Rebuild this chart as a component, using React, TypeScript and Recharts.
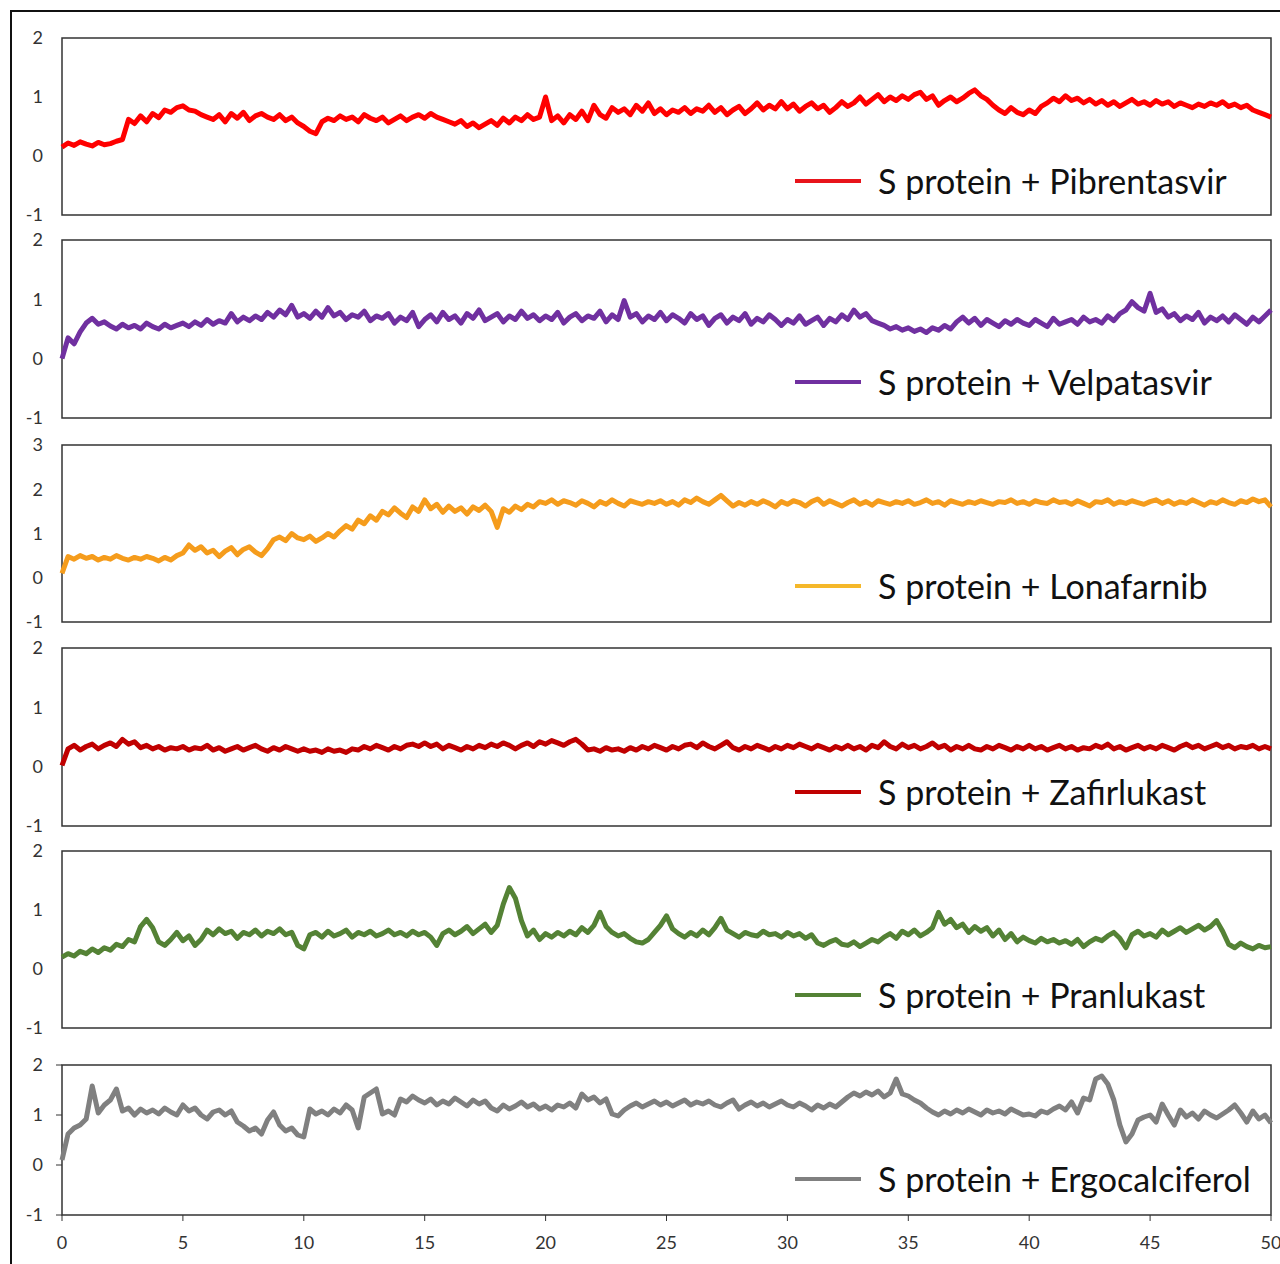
import React from 'react';
import { LineChart, Line, XAxis, YAxis, ReferenceArea, Legend } from 'recharts';

// sampling interval of the trajectories (ns)
const TIME_STEP = 0.25;
const X_TICKS = [0, 5, 10, 15, 20, 25, 30, 35, 40, 45, 50];

const pibrentasvir = [
  0.15, 0.22, 0.18, 0.24, 0.2, 0.17, 0.23, 0.19, 0.21, 0.25, 0.28, 0.62, 0.55, 0.68, 0.58, 0.72, 0.65, 0.78, 0.74, 0.82,
  0.85, 0.78, 0.76, 0.7, 0.66, 0.62, 0.7, 0.58, 0.72, 0.64, 0.74, 0.6, 0.68, 0.72, 0.66, 0.62, 0.7, 0.6, 0.66, 0.56,
  0.5, 0.42, 0.38, 0.58, 0.64, 0.6, 0.68, 0.62, 0.66, 0.58, 0.7, 0.64, 0.6, 0.66, 0.56, 0.62, 0.68, 0.6, 0.66, 0.7,
  0.64, 0.72, 0.66, 0.62, 0.58, 0.54, 0.6, 0.5, 0.56, 0.48, 0.54, 0.6, 0.52, 0.64, 0.56, 0.66, 0.6, 0.7, 0.62, 0.66,
  1.0, 0.6, 0.68, 0.56, 0.7, 0.62, 0.76, 0.6, 0.86, 0.7, 0.64, 0.82, 0.74, 0.8, 0.7, 0.86, 0.76, 0.9, 0.72, 0.8,
  0.7, 0.78, 0.74, 0.82, 0.72, 0.8, 0.76, 0.86, 0.74, 0.82, 0.7, 0.78, 0.84, 0.72, 0.8, 0.9, 0.78, 0.86, 0.8, 0.92,
  0.8, 0.88, 0.76, 0.84, 0.9, 0.8, 0.86, 0.74, 0.82, 0.92, 0.84, 0.9, 1.0, 0.88, 0.96, 1.04, 0.92, 1.0, 0.94, 1.02,
  0.96, 1.04, 1.08, 0.96, 1.02, 0.86, 0.94, 1.0, 0.92, 0.98, 1.06, 1.12, 1.02, 0.96, 0.86, 0.78, 0.72, 0.82, 0.74, 0.7,
  0.78, 0.72, 0.84, 0.9, 0.98, 0.92, 1.02, 0.94, 0.98, 0.9, 0.96, 0.88, 0.94, 0.86, 0.92, 0.84, 0.9, 0.96, 0.88, 0.92,
  0.86, 0.94, 0.88, 0.92, 0.84, 0.9, 0.86, 0.82, 0.88, 0.84, 0.9, 0.86, 0.92, 0.84, 0.88, 0.82, 0.86, 0.78, 0.74, 0.7,
  0.66,
];

const velpatasvir = [
  0.0, 0.35, 0.25, 0.45, 0.6, 0.68, 0.58, 0.62, 0.55, 0.5, 0.58, 0.52, 0.56, 0.5, 0.6, 0.54, 0.5, 0.58, 0.52, 0.56,
  0.6, 0.54, 0.62, 0.56, 0.66, 0.58, 0.64, 0.6, 0.76, 0.62, 0.7, 0.64, 0.72, 0.66, 0.78, 0.7, 0.82, 0.74, 0.9, 0.7,
  0.76, 0.68, 0.8, 0.7, 0.86, 0.72, 0.78, 0.66, 0.74, 0.7, 0.8, 0.64, 0.72, 0.68, 0.76, 0.6, 0.7, 0.64, 0.78, 0.54,
  0.66, 0.74, 0.62, 0.78, 0.66, 0.72, 0.6, 0.76, 0.68, 0.82, 0.64, 0.7, 0.76, 0.62, 0.72, 0.66, 0.8, 0.68, 0.74, 0.64,
  0.72, 0.66, 0.78, 0.6, 0.7, 0.76, 0.64, 0.72, 0.68, 0.8, 0.62, 0.74, 0.66, 0.98, 0.7, 0.76, 0.62, 0.72, 0.66, 0.78,
  0.64, 0.74, 0.68, 0.6, 0.76, 0.66, 0.72, 0.56, 0.68, 0.74, 0.6, 0.7, 0.64, 0.76, 0.58, 0.68, 0.62, 0.74, 0.66, 0.56,
  0.66, 0.6, 0.72, 0.58, 0.64, 0.7, 0.56, 0.68, 0.62, 0.74, 0.66, 0.82, 0.7, 0.76, 0.64, 0.6, 0.56, 0.5, 0.54, 0.48,
  0.52, 0.46, 0.5, 0.44, 0.52, 0.48, 0.56, 0.5, 0.62, 0.7, 0.6, 0.68, 0.56, 0.66, 0.6, 0.54, 0.64, 0.58, 0.66, 0.6,
  0.56, 0.66, 0.6, 0.54, 0.68, 0.58, 0.62, 0.66, 0.58, 0.7, 0.62, 0.66, 0.6, 0.72, 0.64, 0.76, 0.82, 0.96, 0.86, 0.8,
  1.1, 0.78, 0.84, 0.7, 0.76, 0.64, 0.72, 0.66, 0.78, 0.6, 0.7, 0.64, 0.72, 0.62, 0.74, 0.66, 0.58, 0.7, 0.62, 0.72,
  0.82,
];

const lonafarnib = [
  0.1, 0.48, 0.42, 0.5, 0.44, 0.48, 0.4, 0.46, 0.42, 0.5, 0.44, 0.4, 0.46, 0.42, 0.48, 0.44, 0.38, 0.46, 0.4, 0.5,
  0.56, 0.74, 0.62, 0.7, 0.56, 0.62, 0.48, 0.6, 0.68, 0.52, 0.64, 0.7, 0.58, 0.5, 0.66, 0.86, 0.92, 0.84, 1.0, 0.9,
  0.86, 0.94, 0.82, 0.9, 1.0, 0.92, 1.06, 1.18, 1.1, 1.3, 1.22, 1.4, 1.3, 1.5, 1.42, 1.58, 1.46, 1.36, 1.6, 1.5,
  1.76, 1.56, 1.66, 1.48, 1.62, 1.5, 1.58, 1.44, 1.6, 1.52, 1.64, 1.5, 1.14, 1.56, 1.48, 1.62, 1.54, 1.66, 1.6, 1.72,
  1.68, 1.76, 1.66, 1.74, 1.7, 1.64, 1.74, 1.68, 1.6, 1.72, 1.66, 1.76, 1.68, 1.62, 1.74, 1.7, 1.66, 1.72, 1.68, 1.74,
  1.66, 1.72, 1.64, 1.76, 1.7, 1.8, 1.72, 1.66, 1.76, 1.86, 1.74, 1.62, 1.7, 1.64, 1.72, 1.66, 1.74, 1.68, 1.6, 1.72,
  1.66, 1.74, 1.7, 1.62, 1.72, 1.78, 1.66, 1.74, 1.68, 1.62, 1.7, 1.76, 1.66, 1.72, 1.64, 1.74, 1.7, 1.66, 1.72, 1.68,
  1.74, 1.66, 1.7, 1.76, 1.68, 1.72, 1.64, 1.74, 1.7, 1.66, 1.72, 1.68, 1.74, 1.7, 1.66, 1.72, 1.7, 1.76, 1.68, 1.72,
  1.66, 1.74, 1.7, 1.68, 1.76, 1.7, 1.72, 1.66, 1.74, 1.68, 1.62, 1.72, 1.7, 1.76, 1.66, 1.72, 1.68, 1.74, 1.7, 1.66,
  1.72, 1.76, 1.68, 1.74, 1.66, 1.72, 1.68, 1.76, 1.7, 1.64, 1.72, 1.68, 1.76, 1.7, 1.66, 1.74, 1.7, 1.78, 1.72, 1.76,
  1.6,
];

const zafirlukast = [
  0.02, 0.3, 0.36, 0.28, 0.34, 0.38, 0.3, 0.36, 0.4, 0.34, 0.46, 0.38, 0.42, 0.32, 0.36, 0.3, 0.34, 0.28, 0.32, 0.3,
  0.34, 0.28, 0.32, 0.3, 0.36, 0.28, 0.32, 0.26, 0.3, 0.34, 0.28, 0.32, 0.36, 0.3, 0.26, 0.32, 0.28, 0.34, 0.3, 0.26,
  0.3, 0.26, 0.28, 0.24, 0.3, 0.26, 0.28, 0.24, 0.3, 0.28, 0.34, 0.3, 0.36, 0.32, 0.28, 0.34, 0.3, 0.36, 0.38, 0.34,
  0.4, 0.34, 0.38, 0.3, 0.36, 0.32, 0.28, 0.34, 0.3, 0.36, 0.32, 0.38, 0.34, 0.4, 0.36, 0.3, 0.36, 0.4, 0.34, 0.42,
  0.38, 0.44, 0.4, 0.36, 0.42, 0.46, 0.38, 0.28, 0.3, 0.26, 0.32, 0.28, 0.3, 0.26, 0.32, 0.28, 0.34, 0.3, 0.36, 0.32,
  0.28, 0.34, 0.3, 0.36, 0.38, 0.32, 0.4, 0.34, 0.3, 0.36, 0.42, 0.32, 0.28, 0.34, 0.3, 0.36, 0.32, 0.28, 0.34, 0.3,
  0.36, 0.32, 0.38, 0.34, 0.3, 0.36, 0.32, 0.28, 0.34, 0.3, 0.36, 0.3, 0.34, 0.28, 0.36, 0.32, 0.42, 0.34, 0.3, 0.38,
  0.32, 0.36, 0.3, 0.34, 0.4, 0.32, 0.36, 0.28, 0.34, 0.3, 0.36, 0.3, 0.28, 0.34, 0.3, 0.36, 0.32, 0.28, 0.34, 0.3,
  0.36, 0.3, 0.34, 0.28, 0.32, 0.36, 0.3, 0.34, 0.28, 0.32, 0.3, 0.36, 0.32, 0.38, 0.3, 0.34, 0.28, 0.32, 0.36, 0.3,
  0.34, 0.3, 0.36, 0.32, 0.28, 0.34, 0.38, 0.32, 0.36, 0.3, 0.34, 0.38, 0.32, 0.36, 0.3, 0.34, 0.32, 0.36, 0.3, 0.34,
  0.3,
];

const pranlukast = [
  0.2, 0.26, 0.22, 0.3, 0.26, 0.34, 0.28, 0.36, 0.32, 0.42, 0.38, 0.5, 0.46, 0.72, 0.84, 0.7, 0.46, 0.4, 0.5, 0.62,
  0.48, 0.56, 0.4, 0.5, 0.66, 0.58, 0.68, 0.6, 0.64, 0.52, 0.62, 0.58, 0.66, 0.56, 0.64, 0.6, 0.68, 0.58, 0.62, 0.4,
  0.34, 0.58, 0.62, 0.54, 0.64, 0.56, 0.6, 0.66, 0.54, 0.62, 0.58, 0.64, 0.56, 0.6, 0.66, 0.58, 0.62, 0.56, 0.64, 0.58,
  0.62, 0.54, 0.4, 0.6, 0.66, 0.58, 0.64, 0.72, 0.6, 0.68, 0.76, 0.62, 0.74, 1.1, 1.38, 1.2, 0.82, 0.56, 0.66, 0.5,
  0.6, 0.54, 0.62, 0.56, 0.64, 0.58, 0.7, 0.62, 0.74, 0.96, 0.72, 0.62, 0.56, 0.6, 0.52, 0.46, 0.44, 0.5, 0.62, 0.74,
  0.9, 0.68, 0.6, 0.54, 0.62, 0.56, 0.66, 0.58, 0.7, 0.86, 0.66, 0.6, 0.54, 0.62, 0.58, 0.56, 0.64, 0.58, 0.6, 0.54,
  0.62, 0.56, 0.6, 0.52, 0.58, 0.44, 0.4, 0.46, 0.5, 0.42, 0.4, 0.46, 0.38, 0.44, 0.5, 0.46, 0.54, 0.6, 0.52, 0.64,
  0.58, 0.66, 0.56, 0.62, 0.7, 0.96, 0.76, 0.84, 0.7, 0.76, 0.62, 0.72, 0.64, 0.7, 0.56, 0.66, 0.5, 0.6, 0.46, 0.54,
  0.48, 0.44, 0.52, 0.46, 0.5, 0.44, 0.48, 0.42, 0.5, 0.38, 0.46, 0.52, 0.48, 0.56, 0.62, 0.52, 0.36, 0.58, 0.64, 0.56,
  0.6, 0.54, 0.66, 0.58, 0.64, 0.7, 0.62, 0.68, 0.74, 0.66, 0.72, 0.82, 0.64, 0.42, 0.36, 0.44, 0.38, 0.34, 0.4, 0.36,
  0.38,
];

const ergocalciferol = [
  0.1, 0.62, 0.74, 0.8, 0.92, 1.58, 1.04, 1.2, 1.3, 1.52, 1.08, 1.14, 1.0, 1.12, 1.04, 1.1, 1.02, 1.14, 1.06, 1.0,
  1.2, 1.08, 1.14, 1.0, 0.92, 1.06, 1.1, 1.0, 1.08, 0.86, 0.78, 0.68, 0.74, 0.62, 0.9, 1.06, 0.8, 0.68, 0.74, 0.6,
  0.56, 1.12, 1.02, 1.08, 1.0, 1.12, 1.04, 1.2, 1.1, 0.74, 1.36, 1.44, 1.52, 1.02, 1.08, 1.0, 1.32, 1.26, 1.38, 1.3,
  1.24, 1.32, 1.2, 1.28, 1.22, 1.34, 1.26, 1.18, 1.3, 1.22, 1.28, 1.14, 1.08, 1.2, 1.12, 1.18, 1.26, 1.16, 1.22, 1.12,
  1.18, 1.1, 1.2, 1.16, 1.24, 1.14, 1.42, 1.3, 1.36, 1.24, 1.32, 1.02, 0.98, 1.1, 1.18, 1.24, 1.16, 1.22, 1.28, 1.2,
  1.26, 1.18, 1.24, 1.3, 1.2, 1.26, 1.22, 1.28, 1.2, 1.16, 1.24, 1.3, 1.12, 1.2, 1.26, 1.18, 1.24, 1.16, 1.22, 1.28,
  1.2, 1.16, 1.24, 1.18, 1.1, 1.2, 1.14, 1.22, 1.16, 1.26, 1.36, 1.44, 1.38, 1.46, 1.4, 1.48, 1.36, 1.44, 1.72, 1.42,
  1.38, 1.3, 1.24, 1.14, 1.06, 1.0, 1.08, 1.02, 1.1, 1.04, 1.12, 1.06, 1.0, 1.1, 1.04, 1.08, 1.02, 1.12, 1.06, 1.0,
  1.02, 0.98, 1.08, 1.04, 1.12, 1.18, 1.1, 1.26, 1.04, 1.34, 1.3, 1.72, 1.78, 1.62, 1.3, 0.8, 0.46, 0.62, 0.9, 0.96,
  1.0, 0.86, 1.22, 1.0, 0.8, 1.1, 0.96, 1.04, 0.92, 1.08, 1.0, 0.94, 1.02, 1.1, 1.2, 1.04, 0.86, 1.08, 0.92, 1.0,
  0.84,
];

const FONT = 'Lato, "Open Sans", sans-serif';

const panels = [
  { name: 'S protein + Pibrentasvir', values: pibrentasvir, color: '#ff0000', swatch: '#e8141b', yTicks: [-1, 0, 1, 2], top: 38, bottom: 215, legendY: 181 },
  { name: 'S protein + Velpatasvir', values: velpatasvir, color: '#7030a0', swatch: '#7030a0', yTicks: [-1, 0, 1, 2], top: 240, bottom: 418, legendY: 382 },
  { name: 'S protein + Lonafarnib', values: lonafarnib, color: '#f59c1c', swatch: '#f5b82a', yTicks: [-1, 0, 1, 2, 3], top: 445, bottom: 622, legendY: 586 },
  { name: 'S protein + Zafirlukast', values: zafirlukast, color: '#c00000', swatch: '#c00000', yTicks: [-1, 0, 1, 2], top: 648, bottom: 826, legendY: 792 },
  { name: 'S protein + Pranlukast', values: pranlukast, color: '#548235', swatch: '#548235', yTicks: [-1, 0, 1, 2], top: 851, bottom: 1028, legendY: 995 },
  { name: 'S protein + Ergocalciferol', values: ergocalciferol, color: '#808080', swatch: '#808080', yTicks: [-1, 0, 1, 2], top: 1065, bottom: 1215, legendY: 1179 },
];

type PanelCfg = (typeof panels)[number];

const PAD = 12;

function Panel({ cfg, showX }: { cfg: PanelCfg; showX: boolean }) {
  const data = cfg.values.map((v, i) => ({ t: i * TIME_STEP, v }));
  const xAxisH = showX ? 40 : 0;
  const height = cfg.bottom - cfg.top + PAD * 2 + xAxisH;
  const chartTop = cfg.top - PAD;
  const yMin = cfg.yTicks[0];
  const yMax = cfg.yTicks[cfg.yTicks.length - 1];

  return (
    <div style={{ position: 'absolute', left: 0, top: chartTop }}>
      <LineChart width={1280} height={height} data={data} margin={{ top: PAD, right: 9, bottom: PAD, left: 12 }}>
        <XAxis
          dataKey="t"
          type="number"
          domain={[0, 50]}
          ticks={X_TICKS}
          hide={!showX}
          height={xAxisH}
          axisLine={false}
          tickLine={{ stroke: '#333' }}
          tickSize={6}
          tickMargin={15}
          tick={{ fill: '#333', fontSize: 18, fontFamily: FONT }}
          interval={0}
        />
        <YAxis
          type="number"
          domain={[yMin, yMax]}
          ticks={cfg.yTicks}
          width={50}
          axisLine={false}
          tickLine={showX ? { stroke: '#333' } : false}
          tickSize={6}
          tickMargin={13}
          tick={{ fill: '#333', fontSize: 18, fontFamily: FONT }}
          interval={0}
        />
        <ReferenceArea x1={0} x2={50} y1={yMin} y2={yMax} fill="none" stroke="#333" strokeWidth={1.5} ifOverflow="visible" />
        <Line
          type="linear"
          dataKey="v"
          name={cfg.name}
          stroke={cfg.color}
          strokeWidth={5}
          strokeLinejoin="round"
          dot={false}
          isAnimationActive={false}
        />
        <Legend
          layout="vertical"
          align="center"
          verticalAlign="middle"
          wrapperStyle={{ left: 795, top: cfg.legendY - chartTop - 22, width: 480, height: 44 }}
          content={() => (
            <div style={{ display: 'flex', alignItems: 'center', height: 44 }}>
              <span style={{ display: 'inline-block', width: 66, height: 4, background: cfg.swatch, marginRight: 17 }} />
              <span style={{ fontFamily: FONT, fontSize: 34, color: '#111', lineHeight: 1, whiteSpace: 'nowrap' }}>{cfg.name}</span>
            </div>
          )}
        />
      </LineChart>
    </div>
  );
}

export default function App() {
  return (
    <div style={{ position: 'absolute', left: 0, top: 0, width: 1280, height: 1264, overflow: 'hidden', background: '#fff' }}>
      <div style={{ position: 'absolute', left: 10, top: 10, width: 1300, height: 1300, border: '2.5px solid #111', boxSizing: 'border-box' }} />
      {panels.map((p, i) => (
        <Panel key={p.name} cfg={p} showX={i === panels.length - 1} />
      ))}
    </div>
  );
}
